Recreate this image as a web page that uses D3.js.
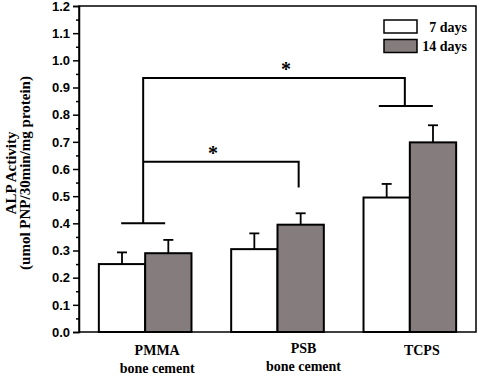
<!DOCTYPE html>
<html>
<head>
  <meta charset="utf-8">
  <style>
    body { margin: 0; background: #fff; }
    .axis text { font: bold 13px "Liberation Sans", Arial, sans-serif; fill: #000; }
    .axis path, .axis line { stroke: #000; stroke-width: 1.5px; }
    .lbl { font-family: "Liberation Serif", "Times New Roman", serif; font-weight: bold; fill: #000; }
  </style>
</head>
<body>
  <svg width="495" height="378"></svg>
  <script src="https://cdn.jsdelivr.net/npm/d3@7/dist/d3.min.js"></script>
  <script>

  // data
  var groups = ["PMMA", "PSB", "TCPS"];
  var groupSub = ["bone cement", "bone cement", ""];
  var series = ["7 days", "14 days"];
  var day7 = [0.25, 0.305, 0.495];
  var day7err = [0.043, 0.058, 0.05];
  var day14 = [0.29, 0.395, 0.698];
  var day14err = [0.049, 0.042, 0.063];
  var yTicks = [0, 0.1, 0.2, 0.3, 0.4, 0.5, 0.6, 0.7, 0.8, 0.9, 1.0, 1.1, 1.2];

  var colors = ["#ffffff", "#857c7d"];

  var svg = d3.select("svg"),
      margin = {top: 6, right: 19, bottom: 46, left: 79},
      width = svg.attr("width") - margin.left - margin.right,
      height = svg.attr("height") - margin.top - margin.bottom,
      g = svg.append("g").attr("transform", "translate(" + margin.left + "," + margin.top + ")");

  var x0 = d3.scaleBand().domain(groups).range([0, width]).paddingInner(0.3).paddingOuter(0.15);
  var x1 = d3.scaleBand().domain(series).range([0, x0.bandwidth()]);
  var y = d3.scaleLinear().domain([0, 1.2]).range([height, 0]);

  var rows = groups.map(function(gr, i) {
    return {group: gr, vals: [
      {s: series[0], v: day7[i], e: day7err[i]},
      {s: series[1], v: day14[i], e: day14err[i]}
    ]};
  });

  // frame
  g.append("rect")
    .attr("width", width).attr("height", height)
    .attr("fill", "none").attr("stroke", "#000").attr("stroke-width", 1.5);

  // minor ticks
  var minor = d3.range(0.05, 1.2, 0.1);
  g.append("g")
    .attr("class", "axis")
    .call(d3.axisLeft(y).tickValues(minor).tickSize(3).tickFormat(""))
    .select(".domain").remove();

  g.append("g")
    .attr("class", "axis")
    .call(d3.axisLeft(y).tickValues(yTicks).tickSize(6).tickPadding(3).tickFormat(d3.format(".1f")));

  // bars
  var grp = g.selectAll(".grp")
    .data(rows)
    .enter().append("g")
    .attr("class", "grp")
    .attr("transform", function(d) { return "translate(" + x0(d.group) + ",0)"; });

  var cap = 5;
  var bar = grp.selectAll(".b")
    .data(function(d) { return d.vals; })
    .enter().append("g").attr("class", "b");

  bar.append("line")
    .attr("x1", function(d) { return x1(d.s) + x1.bandwidth() / 2; })
    .attr("x2", function(d) { return x1(d.s) + x1.bandwidth() / 2; })
    .attr("y1", function(d) { return y(d.v); })
    .attr("y2", function(d) { return y(d.v + d.e); })
    .attr("stroke", "#000").attr("stroke-width", 1.8);
  bar.append("line")
    .attr("x1", function(d) { return x1(d.s) + x1.bandwidth() / 2 - cap; })
    .attr("x2", function(d) { return x1(d.s) + x1.bandwidth() / 2 + cap; })
    .attr("y1", function(d) { return y(d.v + d.e); })
    .attr("y2", function(d) { return y(d.v + d.e); })
    .attr("stroke", "#000").attr("stroke-width", 1.8);

  bar.append("rect")
    .attr("x", function(d) { return x1(d.s); })
    .attr("y", function(d) { return y(d.v); })
    .attr("width", x1.bandwidth())
    .attr("height", function(d) { return height - y(d.v); })
    .attr("fill", function(d, i) { return colors[i]; })
    .attr("stroke", "#000").attr("stroke-width", 2);

  // significance brackets
  var line = d3.line();
  var cx = function(gr) { return x0(gr) + x0.bandwidth() / 2; };
  var foot = 24;
  var pm = cx("PMMA") - 2, tc = cx("TCPS") - 5;
  var psb14 = x0("PSB") + x1("14 days") + x1.bandwidth() / 2 - 2;
  var br = g.append("g").attr("fill", "none").attr("stroke", "#000").attr("stroke-width", 2);
  br.append("path").attr("d", line([[pm - foot + 2, y(0.4)], [pm + foot - 2, y(0.4)]]));
  br.append("path").attr("d", line([[pm, y(0.4)], [pm, y(0.935)], [tc, y(0.935)], [tc, y(0.832)]]));
  br.append("path").attr("d", line([[tc - foot - 2, y(0.832)], [tc + foot + 4, y(0.832)]]));
  br.append("path").attr("d", line([[pm, y(0.627)], [psb14, y(0.627)], [psb14, y(0.532)]]));

  g.append("text").attr("class", "lbl")
    .attr("x", (pm + tc) / 2 + 12).attr("y", y(0.935) - 2)
    .attr("text-anchor", "middle").style("font-size", "20px").text("*");
  g.append("text").attr("class", "lbl")
    .attr("x", (pm + psb14) / 2 - 8).attr("y", y(0.627) - 2)
    .attr("text-anchor", "middle").style("font-size", "20px").text("*");

  // category labels
  var labelShift = [12, 26, 12];
  var xl = g.append("g").attr("class", "lbl").style("font-size", "14px").attr("text-anchor", "middle");
  groups.forEach(function(gr, i) {
    xl.append("text").attr("x", cx(gr) + labelShift[i]).attr("y", height + 23 - (i == 1 ? 2 : 0)).text(gr);
    xl.append("text").attr("x", cx(gr) + labelShift[i]).attr("y", height + 41 - (i == 1 ? 2 : 0)).text(groupSub[i]);
  });

  // y title
  svg.append("text").attr("class", "lbl")
    .attr("transform", "translate(16," + (margin.top + height / 2 + 4) + ") rotate(-90)")
    .attr("text-anchor", "middle").style("font-size", "15px").text("ALP Activity");
  svg.append("text").attr("class", "lbl")
    .attr("transform", "translate(30," + (margin.top + height / 2 + 4) + ") rotate(-90)")
    .attr("text-anchor", "middle").style("font-size", "15px").text("(umol PNP/30min/mg protein)");

  // legend
  var leg = g.selectAll(".leg")
    .data(series)
    .enter().append("g")
    .attr("class", "leg")
    .attr("transform", function(d, i) { return "translate(" + (width - 92) + "," + (14 + i * 19.5) + ")"; });
  leg.append("rect")
    .attr("width", 33).attr("height", 13)
    .attr("fill", function(d, i) { return colors[i]; })
    .attr("stroke", "#000").attr("stroke-width", 1.5);
  leg.append("text").attr("class", "lbl")
    .attr("x", 83).attr("y", 11.5)
    .attr("text-anchor", "end").style("font-size", "14px")
    .text(function(d) { return d; });

  </script>
</body>
</html>
